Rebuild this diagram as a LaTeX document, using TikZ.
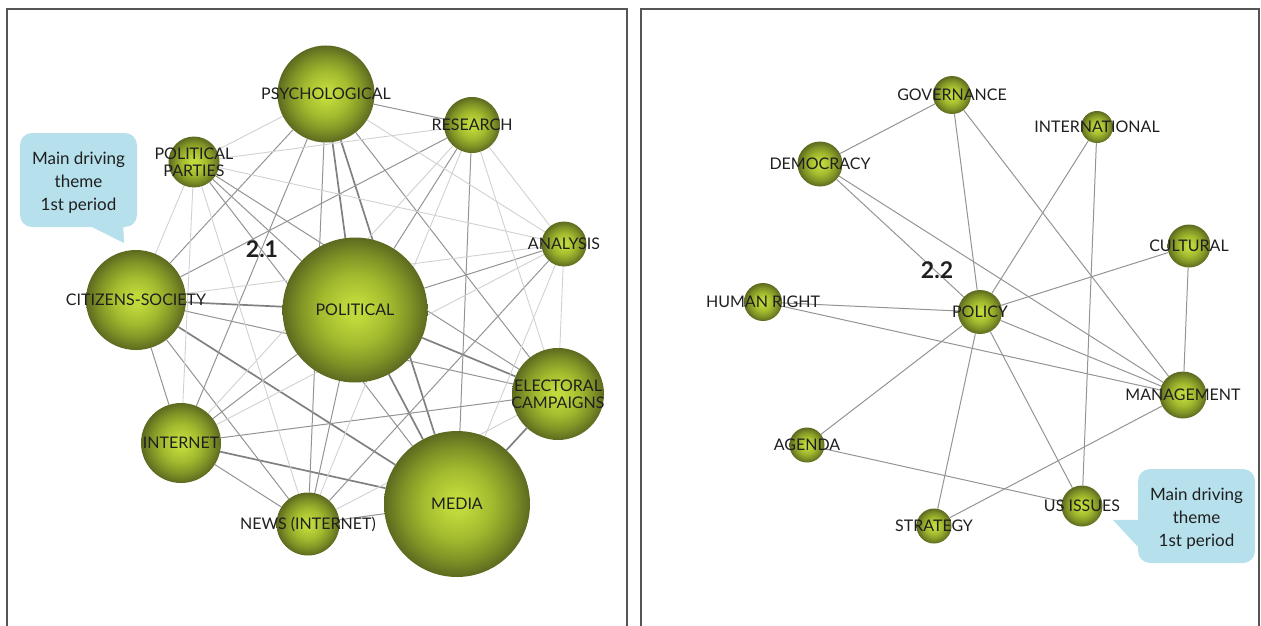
\documentclass[tikz,border=0pt]{standalone}
\usepackage{fontspec}
\setmainfont{Lato}
\usetikzlibrary{calc}

\definecolor{ballhi}{RGB}{192,218,60}
\definecolor{ballmid}{RGB}{162,186,46}
\definecolor{balldim}{RGB}{128,147,38}
\definecolor{balllo}{RGB}{92,106,32}
\definecolor{calloutblue}{RGB}{182,224,235}
\definecolor{framegray}{RGB}{85,85,85}

\pgfdeclareradialshading{greenball}{\pgfpoint{0bp}{0bp}}{%
  color(0bp)=(ballhi); color(3bp)=(ballhi); color(12bp)=(ballmid); color(19bp)=(balldim); color(25bp)=(balllo); color(50bp)=(balllo)}
\pgfdeclarelayer{background}
\pgfsetlayers{background,main}

\begin{document}
\begin{tikzpicture}[x=1pt, y=-1pt,
  ball/.style 2 args = {circle, inner sep=0pt, shading=greenball, minimum size=#1,
                 label={[lbl]center:#2}},
  lbl/.style = {align=center, text=black!88, inner sep=0pt, font=\fontsize{16}{18}\selectfont},
  callbox/.style = {fill=calloutblue, rounded corners=12pt, minimum width=117pt, minimum height=94pt,
                    label={[calltext]center:#1}},
  calltext/.style = {align=center, yshift=-3pt, text=black!88, font=\fontsize{17}{23}\selectfont},
  tag/.style = {font=\fontsize{23}{26}\selectfont\bfseries, text=black!88},
  light/.style = {draw=black!18, line width=0.9pt},
  mid/.style = {draw=black!42, line width=1pt},
  dark/.style = {draw=black!50, line width=1.7pt}]
\useasboundingbox (0,0) rectangle (1261,626);

% panel frames
\draw[framegray, line width=1.3pt] (7,626) -- (7,9) -- (627,9) -- (627,626);
\draw[framegray, line width=1.3pt] (641,626) -- (641,9) -- (1259,9) -- (1259,626);

% period 2.1
\node[ball={97pt}{PSYCHOLOGICAL}] (psy) at (326,94) {};
\node[ball={56pt}{RESEARCH}] (res) at (472,125) {};
\node[ball={51pt}{POLITICAL\\[-1pt]PARTIES}] (parties) at (194,162) {};
\node[ball={45pt}{ANALYSIS}] (ana) at (564,244) {};
\node[ball={100pt}{CITIZENS-SOCIETY}] (cit) at (136,300) {};
\node[ball={145pt}{POLITICAL}] (pol) at (355,310) {};
\node[ball={80pt}{INTERNET}] (inet) at (181,443) {};
\node[ball={92pt}{ELECTORAL\\[-1pt]CAMPAIGNS}] (elec) at (558,394) {};
\node[ball={146pt}{MEDIA}] (media) at (457,504) {};
\node[ball={63pt}{NEWS (INTERNET)}] (news) at (308,524) {};
\node[tag] (t21) at (262,249) {2.1};

% period 2.2
\node[ball={38pt}{GOVERNANCE}] (gov) at (952,95) {};
\node[ball={32pt}{INTERNATIONAL}] (intl) at (1097,127) {};
\node[ball={45pt}{DEMOCRACY}] (dem) at (820,164) {};
\node[ball={43pt}{CULTURAL}] (cult) at (1189,246) {};
\node[ball={38pt}{HUMAN RIGHT}] (human) at (763,302) {};
\node[ball={44pt}{POLICY}] (policy) at (980,312) {};
\node[ball={47pt}{MANAGEMENT}] (mgmt) at (1183,395) {};
\node[ball={35pt}{AGENDA}] (agenda) at (807,445) {};
\node[ball={41pt}{US ISSUES}] (usiss) at (1082,506) {};
\node[ball={35pt}{STRATEGY}] (strat) at (934,526) {};
\node[tag] (t22) at (937,270) {2.2};

% callouts
\node[callbox={Main driving\\theme\\1st period}] (boxA) at (78.5,180) {};
\coordinate (tipA) at (124,243);
\fill[calloutblue] ([xshift=-47pt, yshift=1pt]boxA.south east) -- (tipA) -- ([xshift=-14pt, yshift=1pt]boxA.south east) -- cycle;
\node[callbox={Main driving\\theme\\1st period}] (boxB) at (1196.5,516) {};
\coordinate (tipB) at (1113,520);
\fill[calloutblue] ([xshift=1pt, yshift=-51pt]boxB.north west) -- (tipB) -- ([xshift=1pt, yshift=-79pt]boxB.north west) -- cycle;

\begin{pgfonlayer}{background}
\begin{scope}
\path [dark] (psy) edge (pol);
\path [dark] (psy) edge (media);
\path [dark] (cit) edge (pol);
\path [dark] (cit) edge (media);
\path [dark] (pol) edge (elec);
\path [dark] (pol) edge (media);
\path [dark] (inet) edge (media);
\path [dark] (media) edge (elec);
\path [mid] (psy) edge (res);
\path [mid] (psy) edge (cit);
\path [mid] (psy) edge (elec);
\path [mid] (psy) edge (inet);
\path [mid] (psy) edge (news);
\path [mid] (res) edge (pol);
\path [mid] (res) edge (media);
\path [mid] (res) edge (cit);
\path [mid] (parties) edge (pol);
\path [mid] (parties) edge (elec);
\path [mid] (parties) edge (media);
\path [mid] (cit) edge (inet);
\path [mid] (cit) edge (news);
\path [mid] (cit) edge (elec);
\path [mid] (inet) edge (pol);
\path [mid] (inet) edge (elec);
\path [mid] (inet) edge (news);
\path [mid] (news) edge (pol);
\path [mid] (news) edge (media);
\path [mid] (pol) edge (ana);
\path [mid] (ana) edge (news);
\path [light] (psy) edge (parties);
\path [light] (psy) edge (ana);
\path [light] (res) edge (parties);
\path [light] (res) edge (ana);
\path [light] (res) edge (elec);
\path [light] (res) edge (news);
\path [light] (res) edge (inet);
\path [light] (parties) edge (cit);
\path [light] (parties) edge (inet);
\path [light] (parties) edge (news);
\path [light] (parties) edge (ana);
\path [light] (cit) edge (ana);
\path [light] (ana) edge (media);
\path [light] (ana) edge (inet);
\path [light] (ana) edge (elec);
\path [light] (elec) edge (news);
\end{scope}
\begin{scope}[mid]
\path (gov) edge (dem);
\path (gov) edge (policy);
\path (gov) edge (mgmt);
\path (intl) edge (policy);
\path (intl) edge (usiss);
\path (dem) edge (policy);
\path (dem) edge (mgmt);
\path (cult) edge (policy);
\path (cult) edge (mgmt);
\path (human) edge (policy);
\path (human) edge (mgmt);
\path (policy) edge (mgmt);
\path (policy) edge (agenda);
\path (policy) edge (strat);
\path (policy) edge (usiss);
\path (agenda) edge (usiss);
\path (strat) edge (mgmt);
\end{scope}
\end{pgfonlayer}
\end{tikzpicture}
\end{document}
